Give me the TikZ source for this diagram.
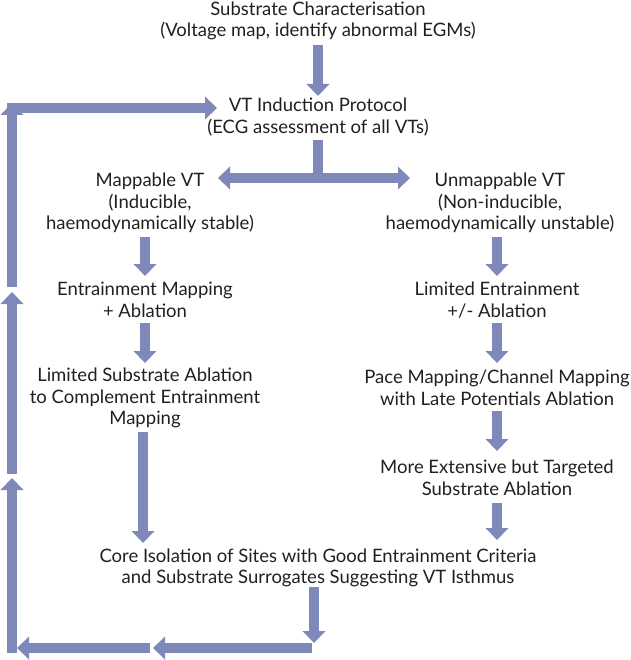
\documentclass[tikz,border=0pt]{standalone}
\usepackage{fontspec}
\setmainfont{Lato}
\usetikzlibrary{arrows.meta}
\definecolor{arr}{RGB}{127,137,185}
\definecolor{txt}{RGB}{35,31,32}
\tikzset{
  lbl/.style={align=center,font=\fontsize{18.5}{21.5}\selectfont,text=txt,inner sep=0pt},
  blk/.style={draw=arr,line width=10pt,line cap=butt,line join=miter,
    -{Triangle[width=23pt,length=12pt,line width=0pt]}},
  blkd/.style={draw=arr,line width=10pt,line cap=butt,
    {Triangle[width=23pt,length=12pt,line width=0pt]}-{Triangle[width=23pt,length=12pt,line width=0pt]}},
  bar/.style={draw=arr,line width=10pt,line cap=butt}
}
\begin{document}
\begin{tikzpicture}[x=1pt,y=-1pt]
\useasboundingbox (0,0) rectangle (630,660);
\node[lbl] (sub) at (318,21) {Substrate Characterisation\\(Voltage map, identify abnormal EGMs)};
\node[lbl] (ind) at (318,117) {VT Induction Protocol\\(ECG assessment of all VTs)};
\node[lbl] (map) at (150,203) {Mappable VT\\(Inducible,\\haemodynamically stable)};
\node[lbl] (unm) at (500,203) {Unmappable VT\\(Non-inducible,\\haemodynamically unstable)};
\node[lbl] (ent) at (145,300) {Entrainment Mapping\\+ Ablation};
\node[lbl] (lim) at (497,300) {Limited Entrainment\\+/- Ablation};
\node[lbl] (lsa) at (145,398) {Limited Substrate Ablation\\to Complement Entrainment\\Mapping};
\node[lbl] (pace) at (497,388) {Pace Mapping/Channel Mapping\\with Late Potentials Ablation};
\node[lbl] (more) at (497,478) {More Extensive but Targeted\\Substrate Ablation};
\node[lbl] (core) at (318,568) {Core Isolation of Sites with Good Entrainment Criteria\\and Substrate Surrogates Suggesting VT Isthmus};
% coordinates
\coordinate (split) at (318,178);
\coordinate (mtip) at (218,178);
\coordinate (utip) at (410,178);
\coordinate (d1) at (314,643);
\coordinate (b0) at (312,648);
\coordinate (b1) at (153,648);
\coordinate (b2) at (150,648);
\coordinate (b3) at (17,648);
\coordinate (l0) at (12,653);
\coordinate (l1) at (12,478);
\coordinate (l2) at (12,474);
\coordinate (l3) at (12,292);
\coordinate (l4) at (12,287);
\coordinate (l5) at (12,103);
\coordinate (t0) at (7,108);
\coordinate (t1) at (217,108);
% arrows
\draw[blk] (sub.south |- 0,45) -- (ind.north |- 0,96);
\draw[bar] (ind.south |- 0,140) -- (split);
\draw[blkd] (mtip) -- (utip);
\draw[blk] (ent.north |- 0,237) -- (ent.north |- 0,276);
\draw[blk] (lim.north |- 0,237) -- (lim.north |- 0,276);
\draw[blk] (ent.south |- 0,323) -- (lsa.north |- 0,363);
\draw[blk] (lim.south |- 0,323) -- (pace.north |- 0,363);
\draw[blk] (pace.south |- 0,411) -- (more.north |- 0,451);
\draw[blk] (more.south |- 0,503) -- (more.south |- 0,540);
\draw[blk] ([xshift=-2pt]lsa.south |- 0,432) -- ([xshift=-2pt]lsa.south |- 0,543);
\draw[blk] (core.south -| d1 |- 0,600) -- (d1);
\draw[blk] (b0) -- (b1);
\draw[blk] (b2) -- (b3);
\draw[blk] (l0) -- (l1);
\draw[blk] (l2) -- (l3);
\draw[blk] (l4) -- (l5);
\draw[blk] (t0) -- (t1);
\end{tikzpicture}
\end{document}
